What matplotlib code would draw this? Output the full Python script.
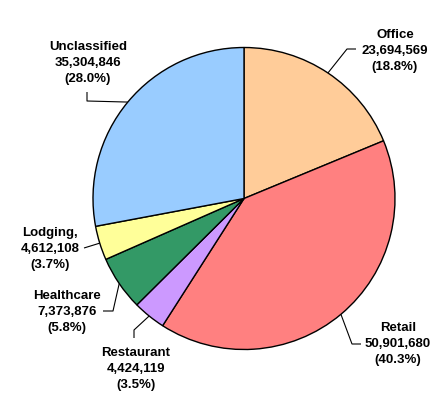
import numpy as np
import matplotlib
matplotlib.use("Agg")
import matplotlib.pyplot as plt

# Floor area by building type
categories = ["Office", "Retail", "Restaurant", "Healthcare", "Lodging,", "Unclassified"]
values = [23694569, 50901680, 4424119, 7373876, 4612108, 35304846]
colors = ["#FFCC99", "#FF8080", "#CC99FF", "#339966", "#FFFF99", "#99CCFF"]

W, H = 443, 398
fig = plt.figure(figsize=(W / 100, H / 100), dpi=100)
ax = fig.add_axes([0, 0, 1, 1])
ax.set_xlim(0, W)
ax.set_ylim(0, H)
ax.set_aspect("equal")
ax.axis("off")

cx, cy, r = 244, H - 198.5, 151
wedges, _ = ax.pie(values, colors=colors, startangle=90, counterclock=False,
                   center=(cx, cy), radius=r,
                   wedgeprops=dict(edgecolor="black", linewidth=1.0))
ax.set_xlim(0, W)
ax.set_ylim(0, H)

# Label placement (x, y of middle text line) and leader elbow/end points, in pixels from top-left
layout = {
    "Office":       dict(text=(395, 51),  elbow=(347, 49),  end=(356, 49)),
    "Retail":       dict(text=(398, 344), elbow=(352, 344), end=(361, 344)),
    "Restaurant":   dict(text=(136, 369), elbow=(134, 330), end=(134, 338)),
    "Healthcare":   dict(text=(67, 312),  elbow=(113, 311), end=(103, 311)),
    "Lodging,":     dict(text=(50, 249),  elbow=(84, 248),  end=(84, 248)),
    "Unclassified": dict(text=(88, 63),   elbow=(87, 101),  end=(87, 92)),
}

total = sum(values)
for w, name, v in zip(wedges, categories, values):
    ang = np.deg2rad((w.theta1 + w.theta2) / 2)
    ex, ey = cx + r * np.cos(ang), cy + r * np.sin(ang)
    lay = layout[name]
    bx, by = lay["elbow"][0], H - lay["elbow"][1]
    qx, qy = lay["end"][0], H - lay["end"][1]
    ax.plot([ex, bx, qx], [ey, by, qy], color="black", linewidth=0.8,
            solid_capstyle="butt")
    tx, ty = lay["text"][0], H - lay["text"][1]
    ax.text(tx, ty, f"{name}\n{v:,}\n({v / total * 100:.1f}%)",
            ha="center", va="center", fontsize=9.5, fontweight="bold",
            family="Liberation Sans", linespacing=1.45, color="black")

fig.savefig("out.png", dpi=100)
